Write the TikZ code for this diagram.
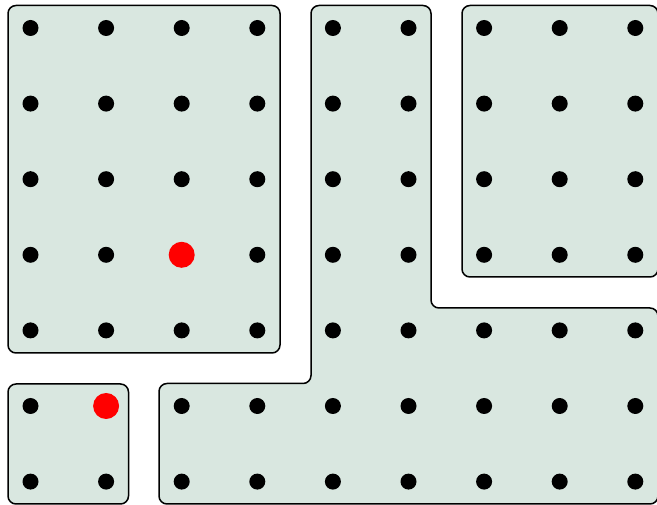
\documentclass[tikz,border=0pt]{standalone}
\definecolor{regfill}{RGB}{217,231,224}
\begin{document}
\begin{tikzpicture}[x=1pt,y=-1pt,
  region/.style={draw=black,line width=1.5pt,fill=regfill,rounded corners=8pt},
  dot/.style={fill=black},
  reddot/.style={fill=red}]
\useasboundingbox (0,0) rectangle (657,505);
\clip (0,0) rectangle (657,505);
\def\gx#1{30.5+75.6*#1}
\def\gy#1{28+75.6*#1}
% regions
\draw[region] (8,5.5) rectangle (280,353);
\draw[region] (8,384) rectangle (128.5,504);
\draw[region] (462,5.5) rectangle (658,277);
\draw[region] (311,5.5) -- (431,5.5) -- (431,308) -- (658,308) -- (658,504) -- (159,504) -- (159,383.5) -- (311,383.5) -- cycle;
% dots
\foreach \i in {0,...,3} \foreach \j in {0,...,4} {
  \ifnum\i=2 \ifnum\j=3 \else \fill[dot] ({\gx\i},{\gy\j}) circle (8); \fi
  \else \fill[dot] ({\gx\i},{\gy\j}) circle (8); \fi }
\fill[dot] ({\gx0},{\gy5}) circle (8);
\fill[dot] ({\gx0},{\gy6}) circle (8);
\fill[dot] ({\gx1},{\gy6}) circle (8);
\foreach \i in {4,5} \foreach \j in {0,...,4} \fill[dot] ({\gx\i},{\gy\j}) circle (8);
\foreach \i in {6,7,8} \fill[dot] ({\gx\i},{\gy4}) circle (8);
\foreach \i in {2,...,8} \foreach \j in {5,6} \fill[dot] ({\gx\i},{\gy\j}) circle (8);
\foreach \i in {6,7,8} \foreach \j in {0,...,3} \fill[dot] ({\gx\i},{\gy\j}) circle (8);
\fill[reddot] ({\gx2},{\gy3}) circle (13);
\fill[reddot] ({\gx1},{\gy5}) circle (13);
\end{tikzpicture}
\end{document}
